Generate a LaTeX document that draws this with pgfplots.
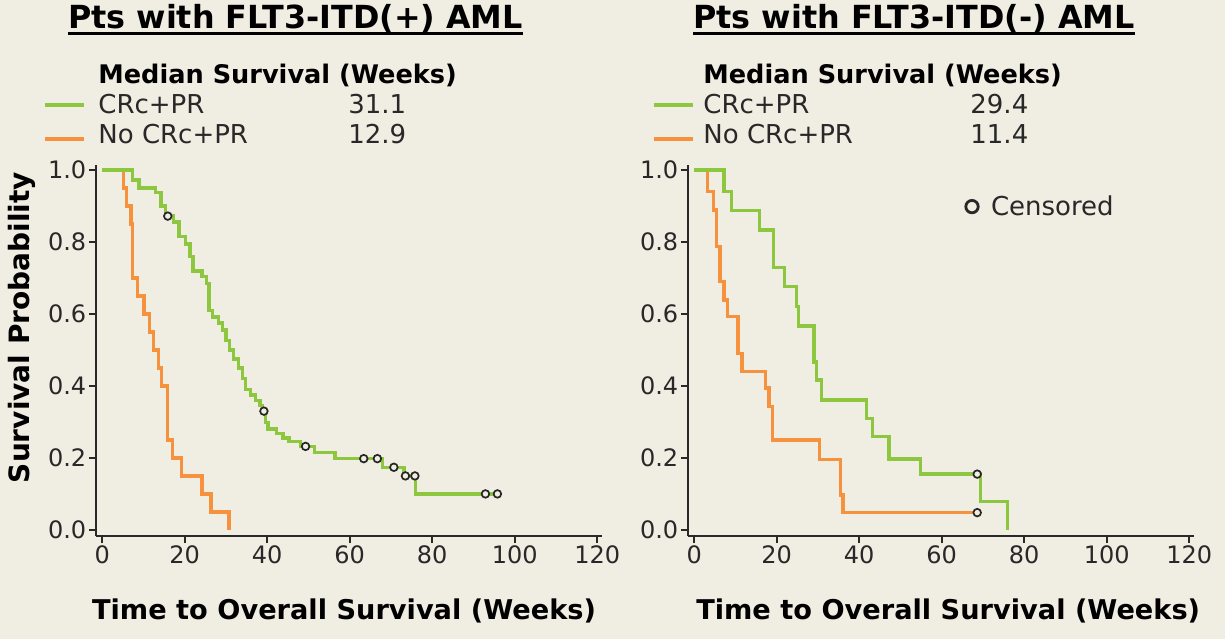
\documentclass[border=0pt]{standalone}
\usepackage{fontspec}
\setmainfont{DejaVu Sans}
\usepackage{pgfplots}
\pgfplotsset{compat=1.18}
\definecolor{bg}{RGB}{240,237,226}
\definecolor{kmgreen}{RGB}{141,198,63}
\definecolor{kmorange}{RGB}{246,146,62}
\definecolor{tk}{RGB}{40,40,40}
\begin{document}
\begin{tikzpicture}
\fill[bg] (0,0) rectangle (612.5pt,319.5pt);
\useasboundingbox (0,0) rectangle (612.5pt,319.5pt);
\pgfplotsset{
 kmaxis/.style={
  scale only axis, width=253.1pt, height=185.5pt,
  xmin=-1.5, xmax=121.2, ymin=-0.017, ymax=1.014,
  axis lines=left, axis line style={-, line width=1pt, tk},
  xtick={0,20,40,60,80,100,120}, ytick={0,0.2,0.4,0.6,0.8,1.0},
  tick align=outside, major tick length=3.5pt,
  tick style={line width=0.8pt, tk},
  ticklabel style={font=\fontsize{12}{14}\selectfont, text=tk, inner sep=1.2pt},
  y tick label style={/pgf/number format/fixed, /pgf/number format/fixed zerofill, /pgf/number format/precision=1},
  /pgf/number format/assume math mode=true,
  label style={font=\fontsize{13.6}{16}\selectfont\bfseries, text=black},
  clip=false,
  anchor=south west,
 },
 km/.style={const plot, line width=1.7pt, no marks},
 cens/.style={only marks, mark=*, mark size=1.9pt, mark options={line width=0.85pt, draw=black!85, fill=bg}},
}
% ---------------- left panel ----------------
\begin{axis}[kmaxis, at={(48pt,51.5pt)},
  xlabel={Time to Overall Survival (Weeks)},
  xlabel style={at={(axis description cs:0.49,-0.226)}, anchor=base},
  ylabel={Survival Probability},
  ylabel style={font=\fontsize{14}{16}\selectfont\bfseries, at={(axis description cs:-0.147,0.562)}, anchor=center, rotate=0}]
\addplot[km, kmorange] coordinates {
 (0,1.0) (5.1,0.95) (5.9,0.90) (7.0,0.85) (7.3,0.70) (8.5,0.65) (10.1,0.60)
 (11.5,0.55) (12.5,0.50) (13.6,0.45) (14.4,0.40) (15.9,0.25) (17.0,0.20)
 (19.2,0.15) (24.2,0.10) (26.4,0.05) (30.7,0.0)};
\addplot[km, kmgreen] coordinates {
 (0,1.0) (7.3,0.972) (8.9,0.95) (12.9,0.937) (14.3,0.90) (15.3,0.872)
 (17.3,0.856) (18.6,0.815) (20.2,0.795) (21.3,0.76) (22.0,0.72) (24.2,0.705)
 (25.3,0.685) (25.9,0.61) (26.8,0.592) (28.2,0.575) (29.1,0.555) (30.0,0.527)
 (30.8,0.50) (31.8,0.475) (33.0,0.45) (34.0,0.42) (34.8,0.39) (36.0,0.375)
 (37.2,0.36) (38.3,0.345) (38.9,0.33) (39.6,0.298) (40.2,0.28) (42.2,0.268)
 (43.8,0.255) (45.3,0.245) (48.0,0.232) (51.5,0.215) (56.4,0.198) (67.9,0.174)
 (73.2,0.15) (76.0,0.10) (95.8,0.10)};
\addplot[cens] coordinates {
 (15.9,0.872) (39.2,0.33) (49.3,0.232) (63.4,0.198) (66.7,0.198) (70.7,0.174)
 (73.5,0.15) (75.8,0.15) (92.9,0.10) (95.8,0.10)};
\end{axis}
% ---------------- right panel ----------------
\begin{axis}[kmaxis, at={(344pt,51.5pt)},
  xlabel={Time to Overall Survival (Weeks)},
  xlabel style={at={(axis description cs:0.514,-0.226)}, anchor=base}]
\addplot[km, kmorange] coordinates {
 (0,1.0) (3.2,0.94) (4.7,0.889) (5.4,0.787) (6.3,0.69) (7.2,0.639) (8.0,0.593)
 (10.6,0.491) (11.6,0.44) (17.3,0.394) (18.1,0.343) (19.0,0.25) (30.4,0.196)
 (35.5,0.097) (36.1,0.048) (68.6,0.048)};
\addplot[km, kmgreen] coordinates {
 (0,1.0) (7.2,0.94) (9.0,0.887) (15.8,0.833) (19.2,0.73) (21.9,0.676)
 (24.8,0.62) (25.3,0.567) (29.0,0.467) (29.6,0.417) (30.8,0.361) (41.7,0.31)
 (43.2,0.259) (47.2,0.197) (54.9,0.155) (69.4,0.079) (75.9,0.0)};
\addplot[cens] coordinates {(68.6,0.155) (68.6,0.048)};
\end{axis}
% ---------------- titles ----------------
\node[anchor=base, inner sep=0, font=\fontsize{15.9}{18}\selectfont\bfseries] (t1) at (147.75pt,305.25pt) {Pts with FLT3-ITD(+) AML};
\draw[line width=1.2pt] ([yshift=-2.6pt]t1.base west) -- ([yshift=-2.6pt]t1.base east);
\node[anchor=base, inner sep=0, font=\fontsize{15.9}{18}\selectfont\bfseries] (t2) at (457pt,305.25pt) {Pts with FLT3-ITD(-) AML};
\draw[line width=1.2pt] ([yshift=-2.6pt]t2.base west) -- ([yshift=-2.6pt]t2.base east);
% ---------------- legends ----------------
\foreach \lx/\tx/\nx/\va/\vb in {22.5/49/174/31.1/12.9, 327/351.5/485/29.4/11.4}{
 \node[anchor=base west, inner sep=0, font=\fontsize{12.8}{15}\selectfont\bfseries] at (\tx pt,277.9pt) {Median Survival (Weeks)};
 \draw[kmgreen, line width=1.7pt] (\lx pt,267pt) -- ++(19.5pt,0);
 \draw[kmorange, line width=1.7pt] (\lx pt,250pt) -- ++(19.5pt,0);
 \node[anchor=base west, inner sep=0, font=\fontsize{13}{15}\selectfont, text=tk] at (\tx pt,262.9pt) {CRc+PR};
 \node[anchor=base west, inner sep=0, font=\fontsize{13}{15}\selectfont, text=tk] at (\tx pt,247.9pt) {No CRc+PR};
 \node[anchor=base west, inner sep=0, font=\fontsize{13}{15}\selectfont, text=tk] at (\nx pt,262.9pt) {\va};
 \node[anchor=base west, inner sep=0, font=\fontsize{13}{15}\selectfont, text=tk] at (\nx pt,247.9pt) {\vb};
}
\draw[line width=1.4pt, tk] (486pt,216.2pt) circle (3.1pt);
\node[anchor=base west, inner sep=0, font=\fontsize{13}{15}\selectfont, text=tk] at (495.3pt,212pt) {Censored};
\end{tikzpicture}
\end{document}
